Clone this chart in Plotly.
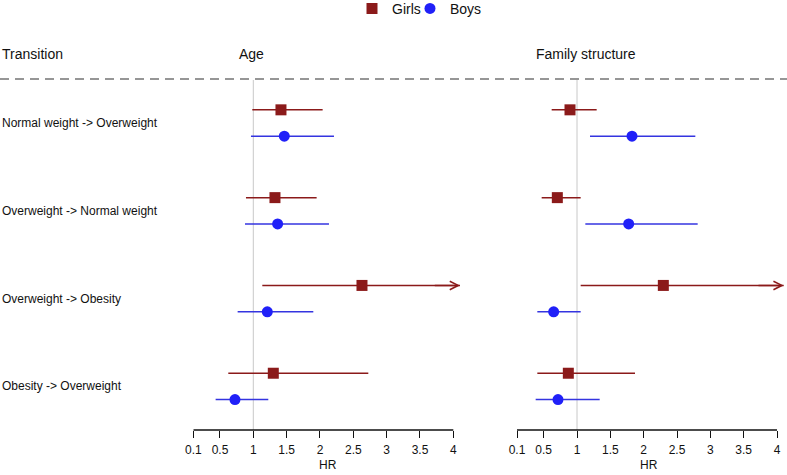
import plotly.graph_objects as go

# ---------------- data ----------------
TRANSITIONS = [
    "Normal weight -> Overweight",
    "Overweight -> Normal weight",
    "Overweight -> Obesity",
    "Obesity -> Overweight",
]
PANELS = ["Age", "Family structure"]
GROUPS = ["Girls", "Boys"]

# Age panel
AGE_GIRLS_HR = [1.415, 1.325, 2.63, 1.30]
AGE_GIRLS_LO = [0.985, 0.89, 1.135, 0.625]
AGE_GIRLS_HI = [2.04, 1.95, 4.5, 2.725]   # 3rd upper limit lies beyond the axis (arrow)
AGE_BOYS_HR = [1.465, 1.365, 1.21, 0.725]
AGE_BOYS_LO = [0.965, 0.875, 0.765, 0.435]
AGE_BOYS_HI = [2.21, 2.135, 1.90, 1.225]

# Family structure panel
FAM_GIRLS_HR = [0.895, 0.705, 2.295, 0.87]
FAM_GIRLS_LO = [0.62, 0.47, 1.055, 0.405]
FAM_GIRLS_HI = [1.295, 1.055, 4.5, 1.87]  # 3rd upper limit lies beyond the axis (arrow)
FAM_BOYS_HR = [1.825, 1.775, 0.65, 0.715]
FAM_BOYS_LO = [1.195, 1.125, 0.405, 0.38]
FAM_BOYS_HI = [2.775, 2.81, 1.055, 1.34]

TICK_VALS = [0.1, 0.5, 1, 1.5, 2, 2.5, 3, 3.5, 4]
TICK_TEXT = ["0.1", "0.5", "1", "1.5", "2", "2.5", "3", "3.5", "4"]
REF_HR = 1

# ---------------- layout constants ----------------
W, H = 787, 475
FONT = "Liberation Sans, Arial, sans-serif"
GIRL_COL = "#8B1A1A"
BOY_COL = "#2020F8"
BOY_LINE = "#3434E0"
AX_MIN, AX_MAX = 0.1, 4.0
RANGE_MAX = 4.15          # axis range extends a bit past 4 for the arrows
ARROW_TIP = 4.1
PX_PER_UNIT = 66.67
LEFT_X0_PX = 193.3        # pixel of 0.1 on left axis
RIGHT_X0_PX = 517.0       # pixel of 0.1 on right axis
AXIS_Y_PX = 430
DASH_Y_PX = 79
ROW_TOP_PX = 123
ROW_STEP_PX = 87.8
OFFSET = 0.15

ROW_POS = [4, 3, 2, 1]


def px2paper_x(px):
    return px / W


def px2paper_y(py):
    return (H - py) / H


def domain_for(x0px):
    right = x0px + (RANGE_MAX - AX_MIN) * PX_PER_UNIT
    return [px2paper_x(x0px), min(1.0, px2paper_x(right))]


# y range so that row positions land on the right pixels
y_bottom = 4 - (AXIS_Y_PX - ROW_TOP_PX) / ROW_STEP_PX
y_top = 4 + ROW_TOP_PX / ROW_STEP_PX

fig = go.Figure()

panels = [
    ("x", AGE_GIRLS_HR, AGE_GIRLS_LO, AGE_GIRLS_HI, AGE_BOYS_HR, AGE_BOYS_LO, AGE_BOYS_HI),
    ("x2", FAM_GIRLS_HR, FAM_GIRLS_LO, FAM_GIRLS_HI, FAM_BOYS_HR, FAM_BOYS_LO, FAM_BOYS_HI),
]

annotations = []
first = True
for xref, ghr, glo, ghi, bhr, blo, bhi in panels:
    for name, hr, lo, hi, off, col, lcol, sym in [
        ("Girls", ghr, glo, ghi, OFFSET, GIRL_COL, GIRL_COL, "square"),
        ("Boys", bhr, blo, bhi, -OFFSET, BOY_COL, BOY_LINE, "circle"),
    ]:
        ys = [r + off for r in ROW_POS]
        lx, ly = [], []
        for l, h_, y in zip(lo, hi, ys):
            lx += [l, min(h_, ARROW_TIP), None]
            ly += [y, y, None]
            if h_ > AX_MAX:
                annotations.append(dict(
                    x=ARROW_TIP, y=y, xref=xref, yref="y",
                    ax=ARROW_TIP - 0.4, ay=y, axref=xref, ayref="y",
                    text="", showarrow=True, arrowhead=5, arrowsize=1.1,
                    arrowwidth=1.5, arrowcolor=lcol, standoff=0,
                ))
        fig.add_trace(go.Scatter(
            x=lx, y=ly, mode="lines", xaxis=xref, yaxis="y",
            line=dict(color=lcol, width=1.5), showlegend=False, hoverinfo="skip",
        ))
    for name, hr, off, col, sym, leg in [
        ("Girls", ghr, OFFSET, GIRL_COL, "square", "legend"),
        ("Boys", bhr, -OFFSET, BOY_COL, "circle", "legend2"),
    ]:
        ys = [r + off for r in ROW_POS]
        fig.add_trace(go.Scatter(
            x=hr, y=ys, mode="markers", xaxis=xref, yaxis="y", name=name,
            marker=dict(symbol=sym, size=11, color=col, line=dict(width=0)),
            showlegend=first, legend=leg, cliponaxis=False,
        ))
    first = False

shapes = []
# dashed separator
shapes.append(dict(type="line", xref="paper", yref="paper", x0=0, x1=1,
                   y0=px2paper_y(DASH_Y_PX), y1=px2paper_y(DASH_Y_PX),
                   line=dict(color="#2e2e2e", width=1.2, dash="9px,6px")))
for xref in ["x", "x2"]:
    # reference line at HR = 1
    shapes.append(dict(type="line", xref=xref, yref="paper", x0=REF_HR, x1=REF_HR,
                       y0=px2paper_y(AXIS_Y_PX), y1=px2paper_y(DASH_Y_PX + 1),
                       line=dict(color="#c8c8c8", width=1), layer="below"))
    # axis line from 0.1 to 4
    shapes.append(dict(type="line", xref=xref, yref="paper", x0=AX_MIN, x1=AX_MAX,
                       y0=px2paper_y(AXIS_Y_PX), y1=px2paper_y(AXIS_Y_PX),
                       line=dict(color="#111111", width=1.3)))

# row labels
for lab, r in zip(TRANSITIONS, ROW_POS):
    annotations.append(dict(x=0, y=r, xref="paper", yref="y", text=lab,
                            showarrow=False, xanchor="left", yanchor="middle",
                            font=dict(family=FONT, size=12, color="#111111")))

# headers
HEADER_Y_PX = 54
annotations.append(dict(x=0, y=px2paper_y(HEADER_Y_PX), xref="paper", yref="paper",
                        text="Transition", showarrow=False, xanchor="left", yanchor="middle",
                        font=dict(family=FONT, size=14, color="#111111")))
for title, cx in zip(PANELS, [251, 586]):
    annotations.append(dict(x=px2paper_x(cx), y=px2paper_y(HEADER_Y_PX), xref="paper", yref="paper",
                            text=title, showarrow=False, xanchor="center", yanchor="middle",
                            font=dict(family=FONT, size=14, color="#111111")))

# HR axis titles
HR_Y_PX = 465
for cx in [327.7, 649.0]:
    annotations.append(dict(x=px2paper_x(cx), y=px2paper_y(HR_Y_PX), xref="paper", yref="paper",
                            text="HR", showarrow=False, xanchor="center", yanchor="middle",
                            font=dict(family=FONT, size=12, color="#111111")))

axis_common = dict(
    range=[AX_MIN, RANGE_MAX], tickmode="array", tickvals=TICK_VALS, ticktext=TICK_TEXT,
    ticks="outside", ticklen=7, tickwidth=1.2, tickcolor="#111111",
    showgrid=False, zeroline=False, showline=False, anchor="y",
    tickfont=dict(family=FONT, size=12, color="#111111"), ticklabelstandoff=2,
    automargin=False, fixedrange=True,
)

legend_common = dict(orientation="h", yanchor="top", y=1.015, xanchor="left",
                     font=dict(family=FONT, size=14, color="#111111"),
                     bgcolor="rgba(0,0,0,0)", itemwidth=30)

fig.update_layout(
    width=W, height=H,
    margin=dict(l=0, r=0, t=0, b=0, autoexpand=False),
    paper_bgcolor="white", plot_bgcolor="white",
    xaxis=dict(domain=domain_for(LEFT_X0_PX), **axis_common),
    xaxis2=dict(domain=domain_for(RIGHT_X0_PX), **axis_common),
    yaxis=dict(domain=[px2paper_y(AXIS_Y_PX), 1], range=[y_bottom, y_top], visible=False,
               fixedrange=True, automargin=False),
    showlegend=True,
    legend=dict(x=px2paper_x(352), **legend_common),
    legend2=dict(x=px2paper_x(410), **legend_common),
    shapes=shapes,
    annotations=annotations,
    font=dict(family=FONT),
)

fig.write_html("out.html", config={"displayModeBar": False},
               post_script="document.body.style.margin='0';document.body.style.padding='0';")
